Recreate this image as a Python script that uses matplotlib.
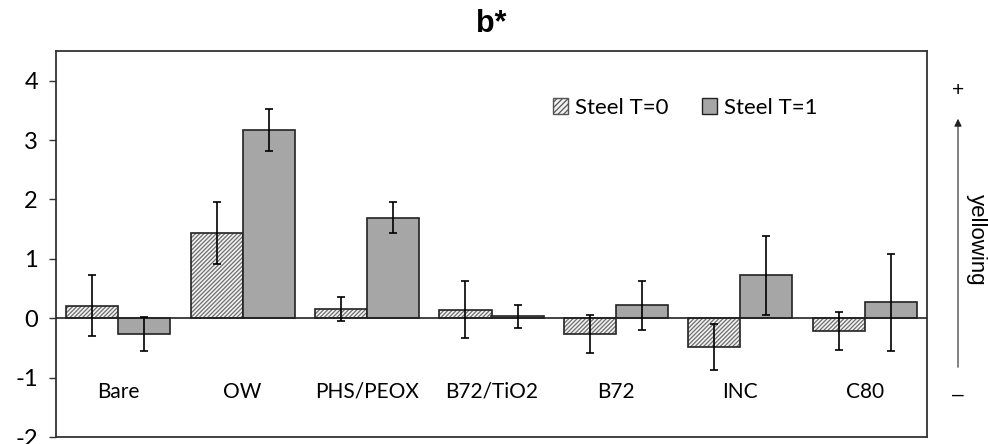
import numpy as np
import matplotlib
matplotlib.use("Agg")
import matplotlib.pyplot as plt
from matplotlib.patches import Patch

plt.rcParams['font.family'] = ['Lato', 'DejaVu Sans']
plt.rcParams['hatch.linewidth'] = 0.9

# data
categories = ['Bare', 'OW', 'PHS/PEOX', 'B72/TiO2', 'B72', 'INC', 'C80']
t0_vals = [0.21, 1.44, 0.15, 0.14, -0.27, -0.49, -0.22]
t0_err = [0.51, 0.52, 0.20, 0.48, 0.32, 0.39, 0.32]
t1_vals = [-0.27, 3.17, 1.69, 0.03, 0.22, 0.72, 0.27]
t1_err = [0.29, 0.35, 0.26, 0.19, 0.41, 0.66, 0.82]
y_ticks = [-2, -1, 0, 1, 2, 3, 4]

fig = plt.figure(figsize=(9.88, 4.44), dpi=100)
ax = fig.add_axes([56/988, 1-437/444, (927-56)/988, (437-51)/444])

x = np.arange(len(categories))
w = 0.418

# hatched bars: gray hatch under a black outline
ax.bar(x - w/2, t0_vals, w, color='#f2f2f2', edgecolor='#6e6e6e', hatch='////////',
       linewidth=0, zorder=2)
ax.bar(x - w/2, t0_vals, w, fill=False, edgecolor='#222222', linewidth=1.2, zorder=3)
ax.bar(x + w/2, t1_vals, w, color='#a6a6a6', edgecolor='#222222', linewidth=1.2, zorder=3)

ax.errorbar(x - w/2, t0_vals, yerr=t0_err, fmt='none', ecolor='black',
            elinewidth=1.2, capsize=3, capthick=1.2, zorder=4)
ax.errorbar(x + w/2, t1_vals, yerr=t1_err, fmt='none', ecolor='black',
            elinewidth=1.2, capsize=3, capthick=1.2, zorder=4)

ax.axhline(0, color='#222222', linewidth=1.2, zorder=3)

ax.set_xlim(-0.5, len(categories) - 0.5)
ax.set_ylim(-2, 4.5)
ax.set_yticks(y_ticks)
ax.set_yticklabels([str(t) for t in y_ticks], fontsize=17)
ax.tick_params(axis='y', direction='out', length=5, width=1, color='#333333', pad=8)
ax.set_xticks([])
for s in ax.spines.values():
    s.set_color('#333333')
    s.set_linewidth(1.3)

for i, c in enumerate(categories):
    ax.text(i, -1.24, c, ha='center', va='center', fontsize=15)

handles = [Patch(facecolor='#f2f2f2', edgecolor='#555555', hatch='//////', linewidth=1),
           Patch(facecolor='#a6a6a6', edgecolor='#222222', linewidth=1)]
ax.legend(handles, ['Steel T=0', 'Steel T=1'], ncol=2, frameon=False, fontsize=16,
          loc='center', bbox_to_anchor=((685 - 56)/871, 1 - (108 - 51)/386),
          handlelength=0.7, handleheight=0.7, handletextpad=0.3, columnspacing=1.5)

fig.text(491/988, 1 - 24/444, 'b*', ha='center', va='center', fontsize=22,
         fontweight='bold', family='Liberation Sans')

# yellowing arrow on the right
fig.text(958/988, 1 - 90/444, '+', ha='center', va='center', fontsize=15,
         family='Liberation Sans')
fig.text(958/988, 1 - 395/444, '\u2013', ha='center', va='center', fontsize=15,
         family='Liberation Sans')
fig.patches.append(matplotlib.patches.FancyArrowPatch(
    (958/988, 1 - 370/444), (958/988, 1 - 116/444), transform=fig.transFigure,
    arrowstyle='-|>', mutation_scale=11, color='#222222', linewidth=0.8))
fig.text(976/988, 1 - 240/444, 'yellowing', ha='center', va='center', fontsize=16,
         rotation=-90, family='Liberation Sans')

fig.savefig('out.png', dpi=100)
